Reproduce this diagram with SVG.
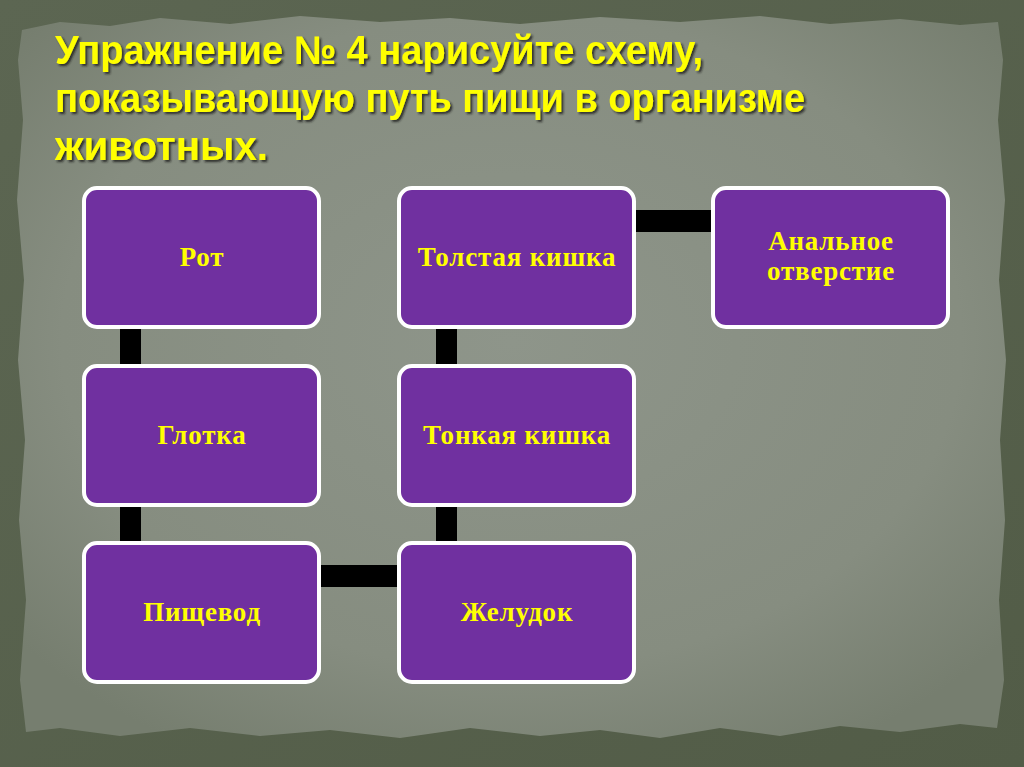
<svg xmlns="http://www.w3.org/2000/svg" width="1024" height="767" viewBox="0 0 1024 767">
<defs>
<radialGradient id="paper" cx="50%" cy="45%" r="65%">
<stop offset="0%" stop-color="#8e958a"/>
<stop offset="70%" stop-color="#868d80"/>
<stop offset="100%" stop-color="#767e6f"/>
</radialGradient>
<linearGradient id="frame" x1="0" y1="0" x2="1" y2="1">
<stop offset="0%" stop-color="#5c6652"/>
<stop offset="100%" stop-color="#525c47"/>
</linearGradient>
<filter id="sh" x="-5%" y="-20%" width="110%" height="140%">
<feDropShadow dx="2" dy="2" stdDeviation="1.2" flood-color="#1a1a1a" flood-opacity="0.8"/>
</filter>
</defs>
<style>
.title{font-family:"Liberation Sans Narrow","Liberation Sans",Arial,sans-serif;font-weight:bold;font-size:40px;fill:#ffff00;}
.node rect{fill:#7030a0;stroke:#ffffff;stroke-width:4;}
.node text{font-family:"Liberation Serif","Times New Roman",serif;font-weight:bold;font-size:27px;letter-spacing:0.8px;fill:#ffff00;text-anchor:middle;}
.conn rect{fill:#000000;}
</style>
<rect x="0" y="0" width="1024" height="767" fill="url(#frame)"/>
<polygon fill="url(#paper)" points="22,30 60,22 110,26 160,18 230,24 300,16 380,22 450,18 520,24 600,17 680,22 760,16 830,24 900,19 960,25 998,22 1003,60 998,120 1005,200 999,280 1006,360 1000,440 1005,520 999,600 1004,680 997,728 960,724 900,732 840,726 780,736 720,728 660,738 600,730 540,736 470,728 400,738 330,730 260,736 190,728 120,736 60,728 26,732 20,680 26,600 19,520 25,440 18,360 24,280 17,200 23,120 18,60"/>
<g filter="url(#sh)">
<text class="title" x="55" y="64" textLength="648" lengthAdjust="spacingAndGlyphs">Упражнение № 4 нарисуйте схему,</text>
<text class="title" x="55" y="112" textLength="750" lengthAdjust="spacingAndGlyphs">показывающую путь пищи в организме</text>
<text class="title" x="55" y="160" textLength="213" lengthAdjust="spacingAndGlyphs">животных.</text>
</g>
<g id="connectors" class="conn">
<rect x="120" y="326" width="21" height="40"/>
<rect x="120" y="504" width="21" height="40"/>
<rect x="319" y="565" width="81" height="22"/>
<rect x="436" y="504" width="21" height="40"/>
<rect x="436" y="326" width="21" height="40"/>
<rect x="633" y="210" width="81" height="22"/>
</g>
<g id="node-rot" class="node"><rect x="84" y="188" width="235" height="139" rx="13"/><text x="202" y="266">Рот</text></g>
<g id="node-glotka" class="node"><rect x="84" y="366" width="235" height="139" rx="13"/><text x="202" y="444">Глотка</text></g>
<g id="node-pishchevod" class="node"><rect x="84" y="543" width="235" height="139" rx="13"/><text x="202" y="621">Пищевод</text></g>
<g id="node-zheludok" class="node"><rect x="399" y="543" width="235" height="139" rx="13"/><text x="517" y="621">Желудок</text></g>
<g id="node-tonkaya" class="node"><rect x="399" y="366" width="235" height="139" rx="13"/><text x="517" y="444">Тонкая кишка</text></g>
<g id="node-tolstaya" class="node"><rect x="399" y="188" width="235" height="139" rx="13"/><text x="517" y="266">Толстая кишка</text></g>
<g id="node-anal" class="node"><rect x="713" y="188" width="235" height="139" rx="13"/><text x="831" y="250">Анальное</text><text x="831" y="280">отверстие</text></g>
</svg>
